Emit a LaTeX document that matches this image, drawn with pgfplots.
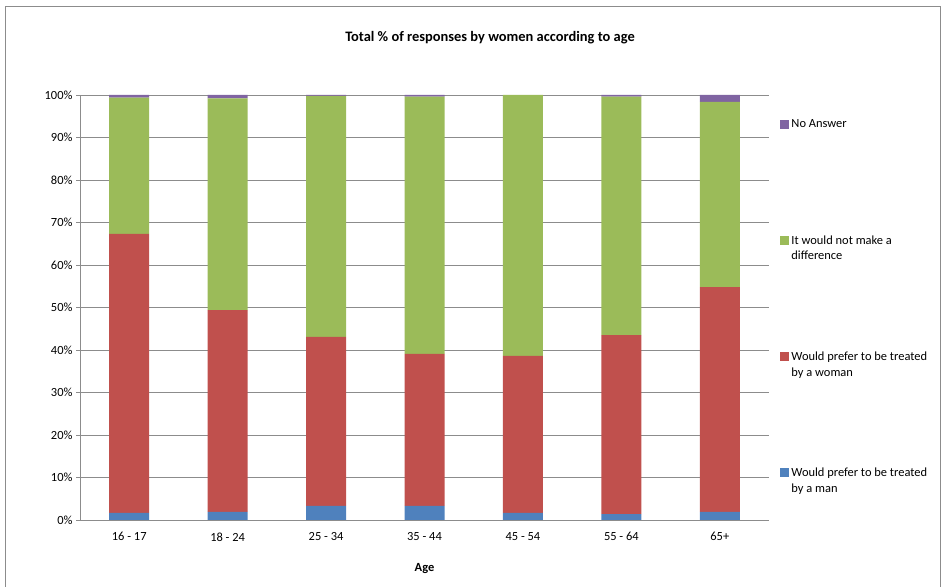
\documentclass[border=0pt]{standalone}
\usepackage{pgfplots}
\pgfplotsset{compat=1.18}
\usepackage{fontspec}
\setmainfont{Carlito}
\definecolor{cblue}{HTML}{4F81BD}
\definecolor{cred}{HTML}{C0504D}
\definecolor{cgreen}{HTML}{9BBB59}
\definecolor{cpurple}{HTML}{8064A2}
\definecolor{gridgray}{HTML}{8C8C8C}
\begin{document}
\begin{tikzpicture}[x=1bp,y=1bp]
\useasboundingbox (0,0) rectangle (942,587);
\draw[gridgray, line width=0.8bp] (5,0) -- (5,581) -- (940,581) -- (940,0);
\node[font=\bfseries\fontsize{14.5}{17}\selectfont] at (490,549) {Total \% of responses by women according to age};
\begin{axis}[
  at={(80bp,67bp)}, anchor=south west,
  width=689bp, height=425bp, scale only axis,
  ybar stacked, bar width=40bp,
  xmin=-0.5, xmax=6.5, ymin=0, ymax=100,
  axis lines=left, axis line style={-, gridgray},
  xtick={0,...,6},
  xticklabels={16 - 17,18 - 24,25 - 34,35 - 44,45 - 54,55 - 64,65+},
  x tick label style={font=\fontsize{12.5}{15}\selectfont, yshift=-5bp},
  xtick style={draw=none},
  extra x ticks={-0.5,0.5,1.5,2.5,3.5,4.5,5.5,6.5},
  extra x tick labels={},
  extra x tick style={major tick length=4bp, tick align=outside, tick style={gridgray}, grid=none},
  ytick={0,10,...,100},
  yticklabels={0\%,10\%,20\%,30\%,40\%,50\%,60\%,70\%,80\%,90\%,100\%},
  y tick label style={font=\fontsize{12.5}{15}\selectfont},
  ytick style={gridgray}, tick align=outside, major tick length=4bp,
  ymajorgrids, grid style={gridgray, line width=0.6bp},
  xlabel={\bfseries Age}, xlabel style={font=\fontsize{12.5}{15}\selectfont, yshift=-7bp},
  reverse legend,
  legend style={draw=none, fill=none, at={(1.012,0.951)}, anchor=north west,
    font=\fontsize{12.5}{16}\selectfont, row sep=86bp,
    cells={anchor=west, align=left}},
  legend image code/.code={\fill[#1] (0bp,3.5bp) rectangle (9bp,12.5bp);},
]
\addplot[fill=cblue, draw=none] coordinates {(0,1.7) (1,1.9) (2,3.3) (3,3.3) (4,1.7) (5,1.4) (6,1.9)};
\addplot[fill=cred, draw=none] coordinates {(0,65.6) (1,47.5) (2,39.8) (3,35.8) (4,36.9) (5,42.1) (6,52.9)};
\addplot[fill=cgreen, draw=none] coordinates {(0,32.1) (1,49.8) (2,56.7) (3,60.5) (4,61.4) (5,56.1) (6,43.6)};
\addplot[fill=cpurple, draw=none] coordinates {(0,0.6) (1,0.8) (2,0.2) (3,0.4) (4,0.0) (5,0.4) (6,1.6)};
\legend{{Would prefer to be treated\\by a man\strut}, {Would prefer to be treated\\by a woman\strut}, {It would not make a\\difference\strut}, {No Answer\\\strut}}
\end{axis}
\end{tikzpicture}
\end{document}
